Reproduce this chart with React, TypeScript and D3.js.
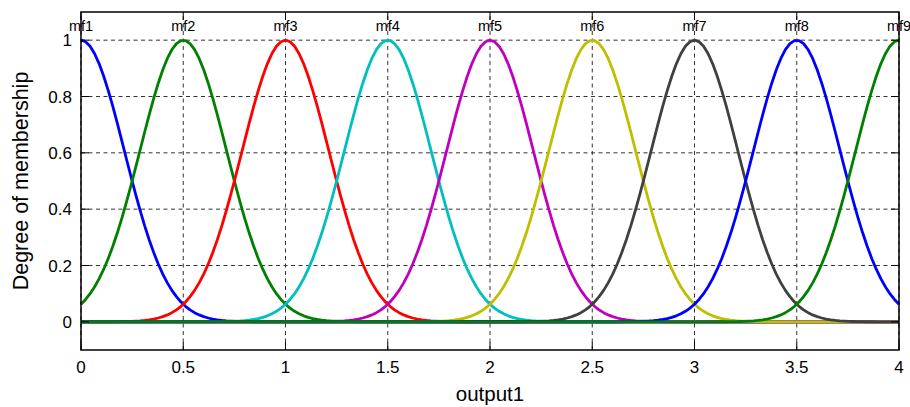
import React from "react";
import * as d3 from "d3";

// Gaussian membership functions for output1 (gaussmf: sigma, center)
const mfNames = ["mf1", "mf2", "mf3", "mf4", "mf5", "mf6", "mf7", "mf8", "mf9"];
const mfCenters = [0, 0.5, 1, 1.5, 2, 2.5, 3, 3.5, 4];
const mfSigma = 0.2123;
const mfColors = [
  "#0000ff",
  "#008000",
  "#ff0000",
  "#00bfbf",
  "#bf00bf",
  "#bfbf00",
  "#404040",
  "#0000ff",
  "#008000",
];
const xTicks = [0, 0.5, 1, 1.5, 2, 2.5, 3, 3.5, 4];
const yTicks = [0, 0.2, 0.4, 0.6, 0.8, 1];
const xRange = [0, 4];
const yRange = [-0.1, 1.1];
const nPoints = 181;

const W = 910;
const H = 407;
const M = { left: 81, right: 11, top: 12, bottom: 57 };

const gaussmf = (x: number, sigma: number, c: number) =>
  Math.exp(-((x - c) * (x - c)) / (2 * sigma * sigma));

export default function App() {
  const x = d3.scaleLinear().domain(xRange).range([M.left, W - M.right]);
  const y = d3.scaleLinear().domain(yRange).range([H - M.bottom, M.top]);
  const xs = d3.range(nPoints).map((i) => xRange[0] + (i * (xRange[1] - xRange[0])) / (nPoints - 1));
  const line = d3
    .line<[number, number]>()
    .x((d) => x(d[0]))
    .y((d) => y(d[1]));

  const font = "'Liberation Sans', Arial, Helvetica, sans-serif";
  const x0 = M.left;
  const x1 = W - M.right;
  const y0 = H - M.bottom;
  const y1 = M.top;
  const tickLen = 8;

  return (
    <svg
      width={W}
      height={H}
      style={{ position: "absolute", left: 0, top: 0, background: "#fff" }}
      fontFamily={font}
    >
      {/* grid */}
      <g stroke="#333" strokeWidth={1} strokeDasharray="4,3.5">
        {xTicks.map((t) => (
          <line key={"gx" + t} x1={x(t)} x2={x(t)} y1={y0} y2={y1} />
        ))}
        {yTicks.map((t) => (
          <line key={"gy" + t} x1={x0} x2={x1} y1={y(t)} y2={y(t)} />
        ))}
      </g>

      {/* membership function curves */}
      <g fill="none" strokeWidth={2.8} strokeLinejoin="round">
        {mfCenters.map((c, i) => (
          <path
            key={"mf" + i}
            d={line(xs.map((v) => [v, gaussmf(v, mfSigma, c)] as [number, number])) || ""}
            stroke={mfColors[i]}
          />
        ))}
      </g>

      {/* mf labels */}
      <g fontSize={14.5} textAnchor="middle" fill="#000">
        {mfCenters.map((c, i) => (
          <text key={"lab" + i} x={x(c)} y={y(1) - 9}>
            {mfNames[i]}
          </text>
        ))}
      </g>

      {/* ticks */}
      <g stroke="#000" strokeWidth={1}>
        {xTicks.map((t) => (
          <g key={"tx" + t}>
            <line x1={x(t)} x2={x(t)} y1={y0} y2={y0 - tickLen} />
            <line x1={x(t)} x2={x(t)} y1={y1} y2={y1 + tickLen} />
          </g>
        ))}
        {yTicks.map((t) => (
          <g key={"ty" + t}>
            <line x1={x0} x2={x0 + tickLen} y1={y(t)} y2={y(t)} />
            <line x1={x1} x2={x1 - tickLen} y1={y(t)} y2={y(t)} />
          </g>
        ))}
      </g>

      {/* axes box */}
      <rect x={x0} y={y1} width={x1 - x0} height={y0 - y1} fill="none" stroke="#000" strokeWidth={1.5} />

      {/* tick labels */}
      <g fontSize={17} fill="#000">
        {xTicks.map((t) => (
          <text key={"lx" + t} x={x(t)} y={y0 + 23} textAnchor="middle">
            {String(t)}
          </text>
        ))}
        {yTicks.map((t) => (
          <text key={"ly" + t} x={x0 - 9} y={y(t) + 6} textAnchor="end">
            {String(t)}
          </text>
        ))}
      </g>

      {/* axis titles */}
      <text x={(x0 + x1) / 2} y={H - 6} textAnchor="middle" fontSize={20.5} fill="#000">
        output1
      </text>
      <text
        transform={`translate(28,${(y0 + y1) / 2}) rotate(-90)`}
        textAnchor="middle"
        fontSize={21.5}
        fill="#000"
      >
        Degree of membership
      </text>
    </svg>
  );
}
